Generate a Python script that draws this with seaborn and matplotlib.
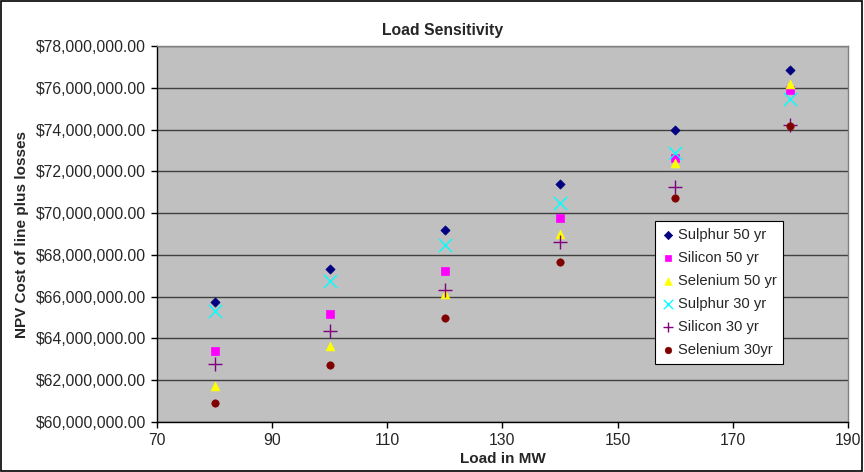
import matplotlib
matplotlib.use("Agg")
import matplotlib.pyplot as plt
import matplotlib.ticker as mticker
from matplotlib.patches import Rectangle
import seaborn as sns
import pandas as pd

loads = [80, 100, 120, 140, 160, 180]
series_names = ["Sulphur 50 yr", "Silicon 50 yr", "Selenium 50 yr",
                "Sulphur 30 yr", "Silicon 30 yr", "Selenium 30yr"]
sulphur_50 = [65.75, 67.31, 69.17, 71.41, 73.96, 76.86]
silicon_50 = [63.38, 65.16, 67.23, 69.78, 72.66, 75.88]
selenium_50 = [61.70, 63.65, 66.14, 69.02, 72.39, 76.19]
sulphur_30 = [65.29, 66.73, 68.46, 70.47, 72.87, 75.47]
silicon_30 = [62.77, 64.34, 66.30, 68.60, 71.27, 74.22]
selenium_30 = [60.90, 62.71, 65.00, 67.64, 70.71, 74.18]
values = [sulphur_50, silicon_50, selenium_50, sulphur_30, silicon_30, selenium_30]
x_ticks = [70, 90, 110, 130, 150, 170, 190]

colors = ["#000080", "#FF00FF", "#FFFF00", "#00FFFF", "#800080", "#800000"]
markers = ["D", "s", "^", "x", "+", "o"]
sizes = [22, 30, 40, 90, 110, 28]
legend_sizes = [18, 22, 30, 45, 55, 22]

rows = []
for name, vals in zip(series_names, values):
    for x, v in zip(loads, vals):
        rows.append({"load": x, "cost": v * 1e6, "series": name})
df = pd.DataFrame(rows)

sns.set_style("white")
plt.rcParams["font.family"] = ["Liberation Sans", "DejaVu Sans"]

fig = plt.figure(figsize=(8.64, 4.72), dpi=100)
ax = fig.add_axes([157 / 864, 1 - 422 / 472, (848 - 157) / 864, (422 - 46) / 472])
ax.set_facecolor("#C0C0C0")

for name, c, m, s in zip(series_names, colors, markers, sizes):
    sub = df[df["series"] == name]
    if m in ("x", "+"):
        sns.scatterplot(data=sub, x="load", y="cost", ax=ax, marker=m, color=c,
                        s=s, linewidth=1.0, label=name, zorder=3)
    else:
        sns.scatterplot(data=sub, x="load", y="cost", ax=ax, marker=m, color=c,
                        s=s, edgecolor=c, linewidth=0.5, label=name, zorder=3)

ax.set_xlim(70, 190)
ax.set_ylim(60e6, 78e6)
ax.xaxis.set_major_locator(mticker.FixedLocator(x_ticks))
ax.yaxis.set_major_locator(mticker.MultipleLocator(2e6))
ax.yaxis.set_major_formatter(mticker.FuncFormatter(lambda v, p: "${:,.2f}".format(v)))
ax.grid(axis="y", color="#404040", linewidth=1.0)
ax.grid(axis="x", visible=False)
ax.set_axisbelow(True)
for sp in ax.spines.values():
    sp.set_color("#808080")
    sp.set_linewidth(1.0)
ax.spines["left"].set_color("black")
ax.spines["bottom"].set_color("black")
ax.tick_params(axis="both", direction="out", length=4, width=1, color="black",
               labelsize=11.3, pad=4, bottom=True, left=True)

ax.set_xlabel("Load in MW", fontsize=11, fontweight="bold")
ax.xaxis.label.set_va("center")
ax.xaxis.set_label_coords(0.5, (422 - 459) / 376)
ax.set_ylabel("NPV Cost of line plus losses", fontsize=11, fontweight="bold")
ax.yaxis.label.set_va("center")
ax.yaxis.set_label_coords((22 - 157) / 691, 0.5)
fig.text(443 / 864, 1 - 30 / 472, "Load Sensitivity", ha="center", va="center",
         fontsize=11.3, fontweight="bold")

leg = ax.legend(loc="upper left", bbox_to_anchor=((655 - 157) / 691, (422 - 221) / 376),
                frameon=True, fancybox=False, edgecolor="black", facecolor="white",
                framealpha=1, fontsize=10.6, borderpad=0.45, labelspacing=0.62,
                handletextpad=0.3, handlelength=0.8, borderaxespad=0)
leg.get_frame().set_linewidth(0.8)
for h, ls in zip(leg.legend_handles, legend_sizes):
    h.set_sizes([ls])

fig.patches.append(Rectangle((0.001, 0.002), 0.997, 0.996, transform=fig.transFigure,
                             fill=False, edgecolor="black", linewidth=1.2))

fig.savefig("out.png", dpi=100, facecolor="white")
